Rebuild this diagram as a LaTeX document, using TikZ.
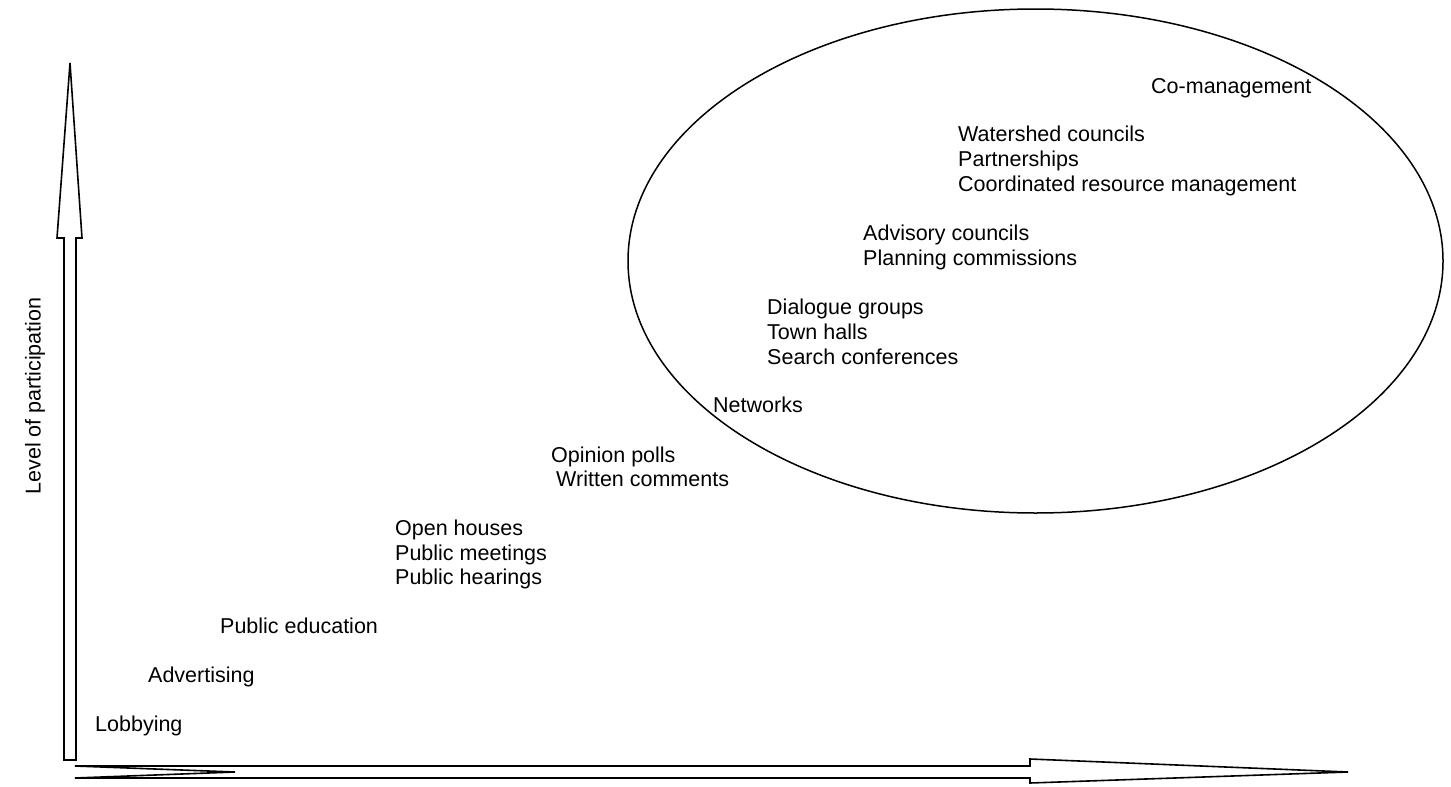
\documentclass[tikz,border=0pt]{standalone}
\usepackage{fontspec}
\setmainfont{Liberation Sans}
\begin{document}
\begin{tikzpicture}[x=1pt,y=-1pt,
  lbl/.style={anchor=base west,inner sep=0pt,font=\fontsize{21.5}{25}\selectfont},
  outline/.style={draw=black,line width=1.6pt,line join=miter,fill=white}]
\useasboundingbox (0,0) rectangle (1451,787);
% ellipse
\draw[line width=1.5pt] (1035.5,261) ellipse [x radius=407.5, y radius=252];
% vertical arrow
\draw[outline] (64,760) -- (64,238) -- (57,238) -- (70,63) -- (82,238) -- (76,238) -- (76,760) -- cycle;
% horizontal arrow
\draw[outline] (75,766) -- (1030,766) -- (1030,759) -- (1348,772) -- (1030,783) -- (1030,778) -- (75,778) -- (235,772) -- cycle;
% labels
\node[lbl] (comg) at (1151,93) {Co-management};
\node[lbl] (ws) at (958,141) {Watershed councils};
\node[lbl] (pa) at (958,166) {Partnerships};
\node[lbl] (crm) at (958,191) {Coordinated resource management};
\node[lbl] (adv) at (863,240) {Advisory councils};
\node[lbl] (plc) at (863,265) {Planning commissions};
\node[lbl] (dg) at (767,314) {Dialogue groups};
\node[lbl] (th) at (767,339) {Town halls};
\node[lbl] (sc) at (767,364) {Search conferences};
\node[lbl] (nw) at (713,412) {Networks};
\node[lbl] (op) at (551,462) {Opinion polls};
\node[lbl] (wc) at (556,486) {Written comments};
\node[lbl] (oh) at (395,535) {Open houses};
\node[lbl] (pm) at (395,560) {Public meetings};
\node[lbl] (ph) at (395,584) {Public hearings};
\node[lbl] (pe) at (220,633) {Public education};
\node[lbl] (ad) at (148,682) {Advertising};
\node[lbl] (lo) at (95,731) {Lobbying};
\node[font=\fontsize{21.5}{25}\selectfont,rotate=90,inner sep=0pt] (lp) at (35,396) {Level of participation};
\end{tikzpicture}
\end{document}
